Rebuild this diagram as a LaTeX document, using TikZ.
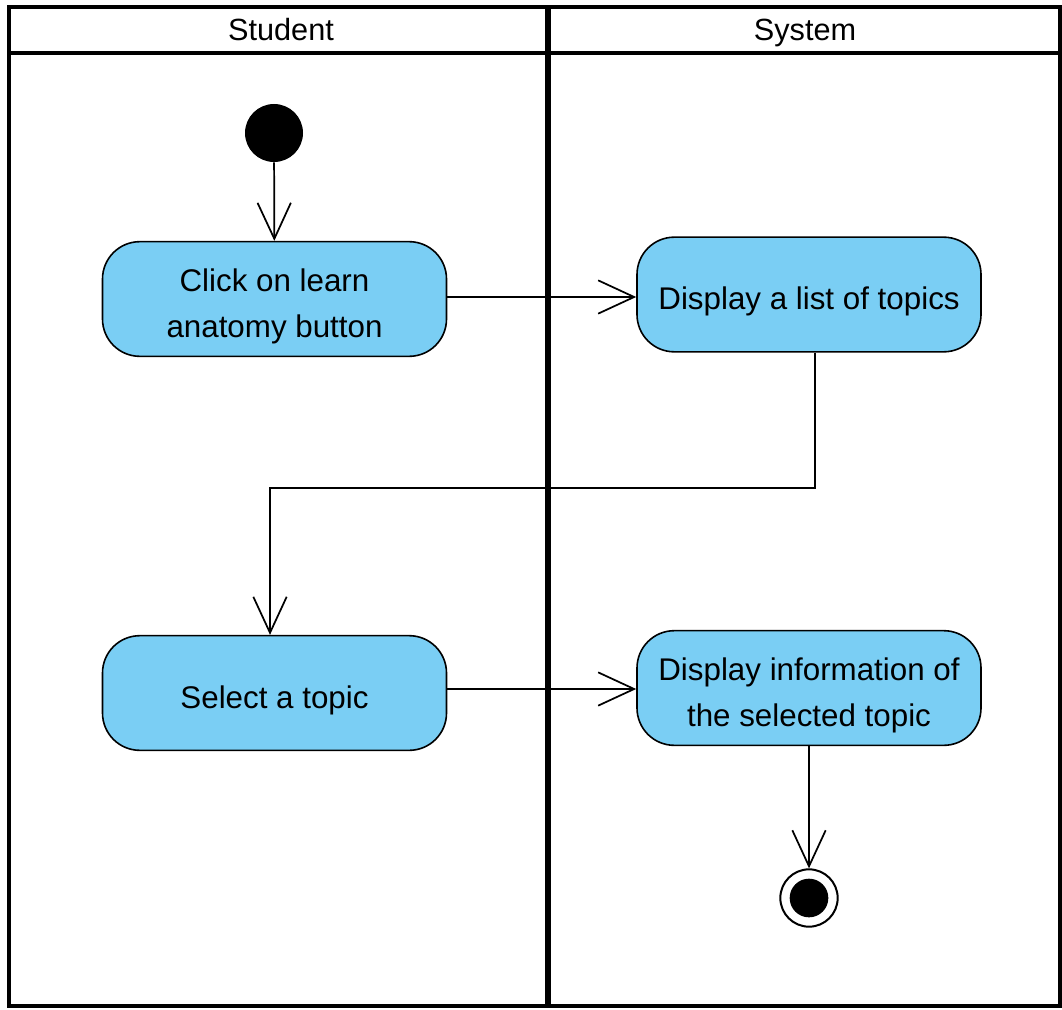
\documentclass[tikz,border=0pt]{standalone}
\usepackage{fontspec}
\setmainfont{Liberation Sans}
\usetikzlibrary{arrows.meta}
\definecolor{actfill}{RGB}{122,206,244}
\begin{document}
\begin{tikzpicture}[x=0.75pt,y=-0.75pt,
  lane/.style={line width=3.2pt},
  action/.style={draw=black,line width=1.2pt,fill=actfill,rounded corners=28pt,
    minimum width=258pt,minimum height=86pt,inner sep=0pt},
  acttext/.style={align=center,font=\fontsize{23.5}{34}\selectfont,inner sep=0pt,yshift=-5.5pt},
  lanehead/.style={font=\fontsize{23}{28}\selectfont,anchor=base},
  flow/.style={line width=1.3pt,-{Straight Barb[length=27pt,width=25pt,line width=1.3pt]}},
  startnode/.style={circle,fill=black,minimum size=43.5pt,inner sep=0pt},
  endring/.style={circle,draw=black,line width=1.5pt,fill=white,minimum size=43pt,inner sep=0pt},
  enddot/.style={circle,fill=black,minimum size=29pt,inner sep=0pt}]
\useasboundingbox (0,0) rectangle (1062,1009);

% swimlane frame
\draw[lane] (9,7) rectangle (1060,1006);
\draw[lane] (9,53) -- (1060,53);
\draw[line width=3.8pt] (548,7) -- (548,1006);
\node[lanehead] (hstudent) at (281,41) {Student};
\node[lanehead] (hsystem) at (805,41) {System};

% activity nodes
\node[startnode] (start) at (274,133) {};
\node[action] (click) at (274.5,299) {};
\node[acttext] (clicktext) at (click.center) {Click on learn\\anatomy button};
\node[action] (list) at (809,294.5) {};
\node[acttext] (listtext) at (list.center) {Display a list of topics};
\node[action] (select) at (274.5,693) {};
\node[acttext] (selecttext) at (select.center) {Select a topic};
\node[action] (info) at (809,688) {};
\node[acttext] (infotext) at (info.center) {Display information of\\the selected topic};
\node[endring] (finish) at (809,898) {};
\node[enddot] (finishdot) at (809,898) {};

% control flows
\draw[flow] (start) -- (click);
\draw[flow] (click.east |- 0,297) -- (list.west |- 0,297);
\coordinate (turn1) at (815,488);
\coordinate (turn2) at (270,488);
\draw[flow] (list.south -| turn1) -- (turn1) -- (turn2) -- (select.north -| turn2);
\draw[flow] (select.east |- 0,689) -- (info.west |- 0,689);
\draw[flow] (info) -- (finish);
\end{tikzpicture}
\end{document}
